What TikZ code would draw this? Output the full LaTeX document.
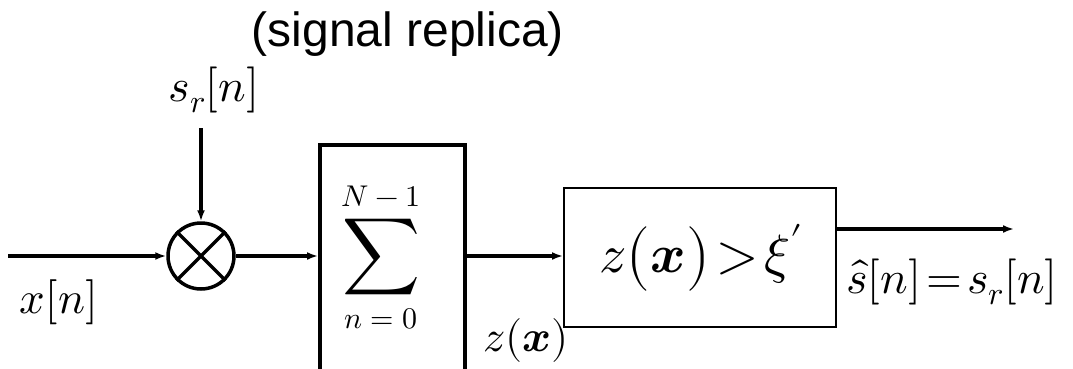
\documentclass[tikz,border=0pt]{standalone}
\usepackage{fontspec}
\usepackage{unicode-math}
\setmathfont{Latin Modern Math}
\newfontfamily\labelsans{Liberation Sans}
\usetikzlibrary{arrows.meta,calc}
\begin{document}
\begin{tikzpicture}[x=1pt,y=-1pt,
  conn/.style={line width=3.5pt,-{Latex[length=11pt,width=8pt]}},
  lbl/.style={inner sep=0pt},
]
\clip (0,0) rectangle (1073,368);
\useasboundingbox (0,0) rectangle (1073,368);
% multiplier
\node[draw, circle, line width=3.5pt, minimum size=66pt, inner sep=0pt] (mul) at (201,256) {};
\draw[line width=3.5pt] (mul.45) -- (mul.225) (mul.135) -- (mul.-45);
% summation box
\node[draw, line width=4pt, minimum width=145pt, minimum height=240pt, anchor=north west, inner sep=0pt] (sum) at (318,143) {};
\node[lbl] (supN) at (381,196) {\fontsize{30}{30}\selectfont$N-1$};
\node[lbl] (sigma) at (381,257) {\fontsize{54}{54}\selectfont$\displaystyle\sum$};
\node[lbl] (subn) at (381,319) {\fontsize{30}{30}\selectfont$n=0$};
% decision box
\node[draw, line width=1.5pt, minimum width=272pt, minimum height=139pt, anchor=north west, inner sep=0pt] (dec) at (563,187) {};
\node[lbl] (dectext) at (701,258) {\fontsize{54}{54}\selectfont$z\bigl(\symbfit{x}\bigr)\!>\!\xi'$};
% coordinates
\coordinate (in) at (8,256);
\coordinate (srstart) at (201,128);
\coordinate (out) at (1014,229);
% connectors
\draw[conn] (in) -- (mul.west);
\draw[conn] (srstart) -- (mul.north);
\draw[conn] (mul.east) -- (mul.east -| sum.west);
\draw[conn] (mul.east -| sum.east) -- (mul.east -| dec.west);
\draw[conn] (out -| dec.east) -- (out);
% labels
\node[lbl] (title) at (408,34) {\labelsans\fontsize{48}{48}\selectfont(signal replica)};
\node[lbl] (srlbl) at (214,90) {\fontsize{46}{46}\selectfont$s_r[n]$};
\node[lbl] (xlbl) at (59,302) {\fontsize{45}{45}\selectfont$x[n]$};
\node[lbl] (zlbl) at (526,340) {\fontsize{44}{44}\selectfont$z(\symbfit{x})$};
\node[lbl] (outlbl) at (952,282) {\fontsize{46}{46}\selectfont$\hat{s}[n]\!=\!s_r[n]$};
\end{tikzpicture}
\end{document}
